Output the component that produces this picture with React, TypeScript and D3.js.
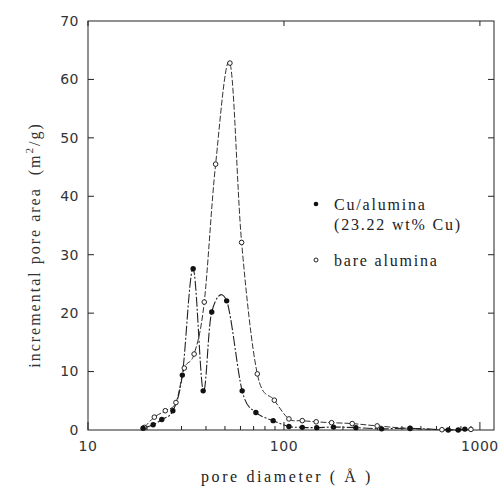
import React from "react";
import * as d3 from "d3";

// Cu/alumina (23.22 wt% Cu) — filled circles
const cuDiam = [19.1, 21.5, 23.8, 27.1, 30.3, 34.4, 38.7, 42.8, 51.0, 61.2, 71.9, 88.1, 106, 124, 147, 179, 233, 315, 440, 689, 775, 838];
const cuArea = [0.3, 0.9, 1.8, 3.3, 9.4, 27.6, 6.7, 20.2, 22.1, 6.7, 3.0, 1.6, 0.6, 0.45, 0.4, 0.5, 0.4, 0.2, 0.3, 0.0, 0.0, 0.15];

// bare alumina — open circles
const bareDiam = [19.4, 21.8, 24.8, 28.1, 31.0, 34.8, 39.2, 44.8, 53.0, 60.8, 73.1, 89.3, 106, 124, 146, 175, 223, 299, 440, 640, 900];
const bareArea = [0.45, 2.2, 3.3, 4.7, 10.6, 13.0, 21.9, 45.5, 62.8, 32.1, 9.6, 5.1, 1.9, 1.6, 1.4, 1.25, 1.1, 0.7, 0.25, 0.05, 0.1];

const yTicks = [0, 10, 20, 30, 40, 50, 60, 70];
const xTicks = [10, 100, 1000];

const W = 499;
const H = 486;
const serif = "'Liberation Serif', 'DejaVu Serif', serif";

export default function App() {
  const x = d3.scaleLog().domain([10, 1180]).range([88, 494]);
  const y = d3.scaleLinear().domain([0, 70]).range([430, 21]);

  const line = d3
    .line<[number, number]>()
    .x((d) => x(d[0]))
    .y((d) => y(d[1]))
    .curve(d3.curveCatmullRom.alpha(0));

  const cu: [number, number][] = cuDiam.map((d, i) => [d, cuArea[i]]);
  const bare: [number, number][] = bareDiam.map((d, i) => [d, bareArea[i]]);

  const [x0, x1] = x.range();
  const [y0, y1] = y.range();

  // minor ticks for the log axis
  const minor: number[] = [];
  [10, 100, 1000].forEach((dec) => {
    for (let k = 2; k <= 9; k++) {
      const v = dec * k;
      if (v < 1180) minor.push(v);
    }
  });

  return (
    <svg
      width={W}
      height={H}
      style={{ position: "absolute", left: 0, top: 0, background: "#fff" }}
    >
      <g stroke="#222" strokeWidth={1} fill="none">
        <rect x={x0} y={y1} width={x1 - x0} height={y0 - y1} />
        {yTicks.slice(1, -1).map((t) => (
          <g key={"y" + t}>
            <line x1={x0} x2={x0 + 6} y1={y(t)} y2={y(t)} />
            <line x1={x1} x2={x1 - 6} y1={y(t)} y2={y(t)} />
          </g>
        ))}
        {xTicks.map((t) => (
          <g key={"x" + t}>
            <line x1={x(t)} x2={x(t)} y1={y0} y2={y0 - 8} />
            <line x1={x(t)} x2={x(t)} y1={y1} y2={y1 + 5} />
          </g>
        ))}
        {minor.map((t) => (
          <line key={"m" + t} x1={x(t)} x2={x(t)} y1={y0} y2={y0 - 4} />
        ))}
      </g>

      <g fontFamily="'DejaVu Sans', sans-serif" fontSize={14} fill="#333">
        {yTicks.map((t) => (
          <text key={"yl" + t} x={79} y={y(t)} dy="0.35em" textAnchor="end" letterSpacing={0.5}>
            {t}
          </text>
        ))}
        {xTicks.map((t) => (
          <text key={"xl" + t} x={x(t)} y={451} textAnchor="middle" letterSpacing={0.5}>
            {t}
          </text>
        ))}
      </g>

      <text
        x={287}
        y={482}
        textAnchor="middle"
        fontFamily={serif}
        fontSize={16}
        letterSpacing={2.6}
        fill="#222"
      >
        pore diameter ( Å )
      </text>

      <text
        transform="translate(40,245) rotate(-90)"
        textAnchor="middle"
        fontFamily={serif}
        fontSize={16}
        letterSpacing={2}
        fill="#333"
      >
        incremental pore area{"\u00a0\u00a0"}(m
        <tspan dy={-7} fontSize={11}>2</tspan>
        <tspan dy={7}>/g)</tspan>
      </text>

      <path d={line(bare) || ""} fill="none" stroke="#333" strokeWidth={1} strokeDasharray="6,2" />
      <path d={line(cu) || ""} fill="none" stroke="#222" strokeWidth={1.1} strokeDasharray="10,2,2,2" />

      {bare.map((d, i) => (
        <circle key={"b" + i} cx={x(d[0])} cy={y(d[1])} r={2.3} fill="#fff" stroke="#222" strokeWidth={1} />
      ))}
      {cu.map((d, i) => (
        <circle key={"c" + i} cx={x(d[0])} cy={y(d[1])} r={2.7} fill="#111" />
      ))}

      <g fontFamily={serif} fontSize={16} letterSpacing={1.8} fill="#222">
        <circle cx={316} cy={204} r={2.3} fill="#111" />
        <text x={334} y={204} dy="0.35em">Cu/alumina</text>
        <text x={334} y={224} dy="0.35em">(23.22 wt% Cu)</text>
        <circle cx={316} cy={260} r={2} fill="#fff" stroke="#222" strokeWidth={1} />
        <text x={334} y={260} dy="0.35em">bare alumina</text>
      </g>
    </svg>
  );
}
